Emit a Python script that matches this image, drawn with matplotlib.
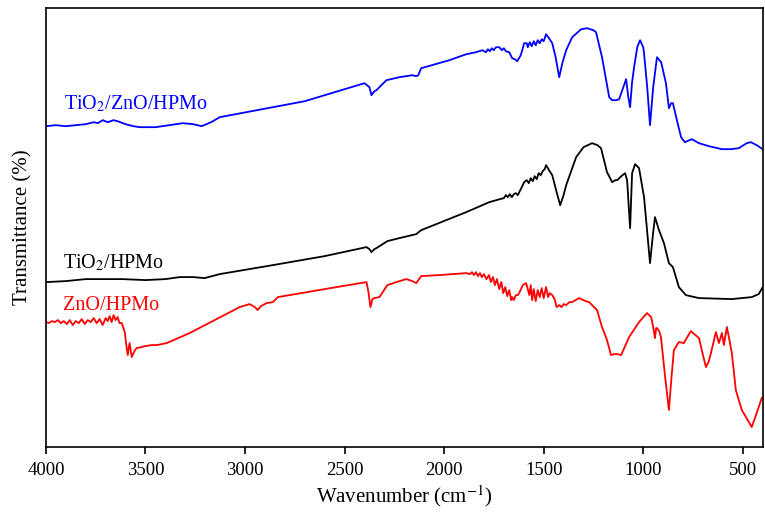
import numpy as np
import matplotlib
matplotlib.use("Agg")
from matplotlib import pyplot as plt

# wavenumber (cm-1) / transmittance (a.u.)
wn_tzh = [4000, 3950, 3900, 3850, 3800, 3760, 3740, 3714, 3690, 3660, 3640, 3600, 3560, 3529,
          3450, 3380, 3313, 3260, 3218, 3170, 3127, 2700, 2400, 2375, 2365, 2350, 2340, 2290,
          2225, 2160, 2140, 2130, 2115, 1974, 1889, 1840, 1808, 1790, 1780, 1770, 1760, 1750,
          1740, 1723, 1710, 1700, 1690, 1673, 1658, 1645, 1633, 1615, 1598, 1585, 1580, 1570,
          1560, 1550, 1540, 1530, 1520, 1510, 1500, 1488, 1470, 1457, 1440, 1422, 1405, 1387,
          1357, 1312, 1282, 1250, 1237, 1207, 1171, 1156, 1135, 1121, 1100, 1086, 1075, 1066,
          1056, 1046, 1030, 1016, 1000, 996, 980, 966, 950, 931, 910, 886, 871, 860, 851, 831,
          810, 791, 756, 720, 670, 605, 560, 520, 480, 460, 430, 400]
t_tzh = [321, 322, 321, 322, 323, 325, 324, 327, 325, 327, 326, 323, 321, 320,
         320, 322, 324, 323, 321, 325, 330, 346, 364, 360, 352, 356, 357, 367,
         370, 372, 371, 372, 379, 387, 393, 395, 397, 395, 398, 396, 399, 397,
         400, 400, 397, 399, 396, 395, 389, 388, 386, 392, 404, 404, 400, 405,
         401, 406, 402, 407, 404, 408, 406, 413, 408, 404, 390, 370, 385, 397,
         410, 418, 419, 417, 415, 390, 350, 347, 347, 348, 360, 368, 350, 340,
         365, 380, 400, 407, 400, 394, 360, 322, 360, 390, 385, 364, 339, 344, 344, 327,
         310, 305, 308, 304, 301, 298, 298, 299, 304, 305, 302, 298]

wn_th = [4000, 3900, 3800, 3700, 3615, 3500, 3400, 3328, 3260, 3203, 3127, 2860, 2600, 2390,
         2375, 2365, 2350, 2340, 2285, 2225, 2140, 2115, 1889, 1773, 1720, 1700, 1690, 1680,
         1670, 1660, 1650, 1640, 1630, 1615, 1598, 1585, 1575, 1565, 1555, 1545, 1535, 1525,
         1515, 1505, 1495, 1488, 1470, 1457, 1435, 1417, 1400, 1387, 1337, 1300, 1257, 1230,
         1212, 1182, 1156, 1140, 1131, 1110, 1091, 1081, 1066, 1056, 1041, 1021, 996, 980, 966,
         950, 941, 921, 896, 871, 851, 821, 786, 720, 555, 455, 420, 400]
t_th = [165, 166, 168, 168, 168, 167, 168, 170, 170, 169, 173, 182, 191, 200,
        198, 195, 198, 199, 206, 209, 213, 217, 235, 245, 248, 249, 252, 250,
        253, 250, 253, 254, 252, 258, 265, 267, 264, 269, 266, 271, 268, 274,
        272, 276, 278, 282, 276, 272, 255, 242, 252, 262, 290, 300, 304, 302,
        299, 275, 265, 267, 267, 271, 274, 267, 219, 274, 283, 279, 250, 215, 184,
        215, 230, 217, 204, 184, 180, 160, 152, 149, 148, 150, 153, 160]

wn_zh = [4000, 3985, 3970, 3955, 3940, 3925, 3910, 3895, 3880, 3865, 3850, 3835, 3820, 3805,
         3790, 3775, 3760, 3745, 3730, 3715, 3700, 3690, 3680, 3670, 3660, 3650, 3640, 3630,
         3619, 3604, 3595, 3589, 3580, 3575, 3569, 3555, 3544, 3520, 3500, 3470, 3443, 3393,
         3278, 3027, 2977, 2950, 2937, 2920, 2892, 2860, 2835, 2600, 2390, 2380, 2370, 2360,
         2350, 2325, 2285, 2240, 2190, 2160, 2140, 2115, 2025, 1889, 1870, 1860, 1850, 1840,
         1830, 1820, 1810, 1800, 1788, 1775, 1765, 1755, 1745, 1735, 1723, 1713, 1703, 1693,
         1683, 1673, 1663, 1658, 1650, 1640, 1630, 1623, 1605, 1588, 1580, 1572, 1565, 1558,
         1550, 1540, 1530, 1520, 1510, 1500, 1488, 1478, 1470, 1457, 1445, 1435, 1422, 1410,
         1400, 1387, 1370, 1357, 1322, 1290, 1272, 1232, 1207, 1182, 1162, 1145, 1131, 1111,
         1071, 1021, 981, 960, 950, 941, 935, 931, 920, 911, 890, 871, 858, 846, 821, 796,
         761, 720, 700, 685, 672, 660, 635, 620, 605, 595, 580, 570, 555, 535, 505, 455,
         430, 405]
t_zh = [125, 124, 126, 125, 127, 124, 126, 123, 127, 122, 126, 124, 128, 123,
        127, 125, 129, 124, 128, 122, 129, 126, 131, 125, 132, 127, 130, 124,
        124, 115, 100, 92, 104, 98, 90, 96, 99, 100, 101, 102, 102, 104,
        114, 140, 143, 140, 137, 141, 144, 145, 150, 158, 165, 155, 140, 148,
        149, 150, 162, 165, 168, 166, 164, 171, 172, 174, 173, 175, 172, 175,
        171, 174, 170, 173, 168, 172, 165, 170, 162, 168, 158, 165, 154, 160,
        151, 157, 147, 150, 147, 152, 152, 154, 162, 164, 158, 152, 162, 147,
        158, 146, 157, 150, 159, 149, 160, 150, 154, 152, 148, 140, 142, 140,
        143, 142, 145, 145, 149, 146, 145, 137, 120, 107, 92, 93, 93, 92,
        110, 125, 134, 130, 120, 109, 119, 119, 116, 110, 70, 37, 70, 97, 105, 104,
        116, 109, 92, 80, 85, 94, 115, 104, 114, 102, 120, 110, 94, 57, 37, 20,
        34, 49]

plt.rcParams.update({
    "font.family": "serif",
    "font.serif": ["Liberation Serif"],
    "mathtext.fontset": "stix",
    "font.size": 13,
})

fig = plt.figure(figsize=(7.65, 5.15), dpi=100)
ax = fig.add_axes([0.060, 0.132, 0.937, 0.852])

ax.plot(wn_tzh, t_tzh, color="blue", lw=1.3)
ax.plot(wn_th, t_th, color="black", lw=1.3)
ax.plot(wn_zh, t_zh, color="red", lw=1.3)

ax.text(3910, 338, "TiO$_2$/ZnO/HPMo", color="blue", fontsize=14.5, va="baseline")
ax.text(3916, 179, "TiO$_2$/HPMo", color="black", fontsize=14.5, va="baseline")
ax.text(3916, 137, "ZnO/HPMo", color="red", fontsize=14.5, va="baseline")

ax.set_xlim(4000, 400)
ax.set_ylim(0, 439)
ax.set_xticks(np.arange(4000, 400, -500))
ax.set_yticks([])
ax.tick_params(axis="x", direction="out", length=5, width=1.2, labelsize=13.5, pad=6)
for s in ax.spines.values():
    s.set_linewidth(1.2)

ax.set_xlabel("Wavenumber (cm$^{-1}$)", fontsize=15, labelpad=3)
ax.set_ylabel("Transmittance (%)", fontsize=15, labelpad=10)

fig.savefig("out.png", dpi=100)
